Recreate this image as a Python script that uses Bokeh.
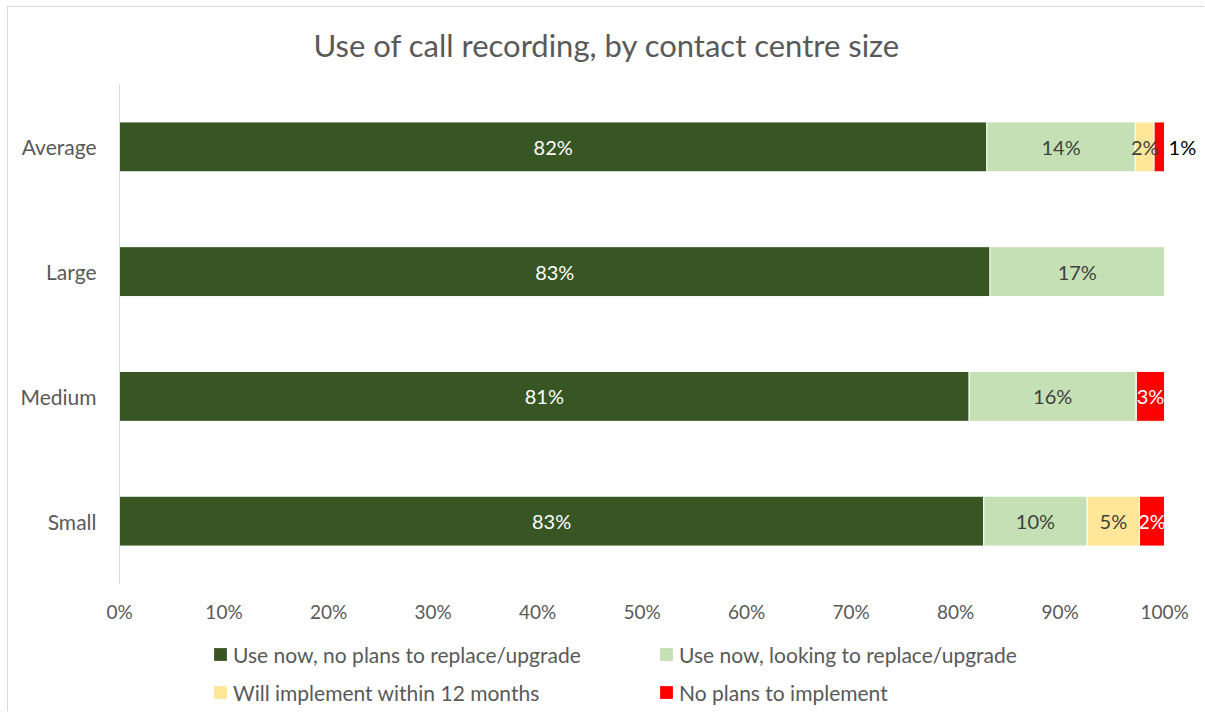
import numpy as np
from bokeh.plotting import figure
from bokeh.layouts import column
from bokeh.models import (ColumnDataSource, FactorRange, Range1d, FixedTicker,
                          PrintfTickFormatter, Legend, LegendItem)
from bokeh.core.properties import value
from bokeh.embed import file_html
from bokeh.resources import INLINE

# ---------------- data ----------------
categories = ["Small", "Medium", "Large", "Average"]
series = ["Use now, no plans to replace/upgrade",
          "Use now, looking to replace/upgrade",
          "Will implement within 12 months",
          "No plans to implement"]
use_no_plans = [82.7, 81.3, 83.3, 83.0]
use_looking = [9.9, 16.0, 16.7, 14.2]
will_implement = [5.0, 0.0, 0.0, 1.8]
no_plans = [2.4, 2.7, 0.0, 1.0]
use_no_plans_labels = ["83%", "81%", "83%", "82%"]
use_looking_labels = ["10%", "16%", "17%", "14%"]
will_implement_labels = ["5%", "", "", "2%"]
no_plans_labels = ["2%", "3%", "", "1%"]
x_ticks = [0, 10, 20, 30, 40, 50, 60, 70, 80, 90, 100]

# ---------------- style ----------------
colors = ["#375623", "#C5E0B4", "#FFE699", "#FF0000"]
label_colors = ["#FFFFFF", "#404040", "#404040", "#FFFFFF"]
outside_color = "#000000"
grey = "#595959"
FONT = "Lato"
W = 1196

p = figure(width=W, height=624,
           y_range=FactorRange(factors=categories, range_padding=0),
           x_range=Range1d(0, 103.44),
           output_backend="svg", toolbar_location=None,
           min_border_left=111, min_border_right=4,
           min_border_top=77, min_border_bottom=48)

p.title.text = "Use of call recording, by contact centre size"
p.title.align = "left"
p.title.offset = 194
p.title.standoff = 37
p.title.vertical_align = "top"
p.title.text_font = FONT
p.title.text_font_size = "31px"
p.title.text_font_style = "normal"
p.title.text_color = grey

stack_cols = ["s0", "s1", "s2", "s3"]
source = ColumnDataSource(dict(cat=categories, s0=use_no_plans, s1=use_looking,
                               s2=will_implement, s3=no_plans))
renderers = p.hbar_stack(stack_cols, y="cat", height=0.4, color=colors,
                         line_color="white", line_width=1, source=source)

# data labels
stack = [use_no_plans, use_looking, will_implement, no_plans]
stack_labels = [use_no_plans_labels, use_looking_labels, will_implement_labels, no_plans_labels]
starts = np.zeros(len(categories))
for i, (vals, labs) in enumerate(zip(stack, stack_labels)):
    vals = np.array(vals, dtype=float)
    ins = dict(x=[], y=[], t=[])
    outs = dict(x=[], y=[], t=[])
    for j, cat in enumerate(categories):
        if not labs[j]:
            continue
        if vals[j] < 1.5 and i == len(stack) - 1:
            outs["x"].append(starts[j] + vals[j]); outs["y"].append(cat); outs["t"].append(labs[j])
        else:
            ins["x"].append(starts[j] + vals[j] / 2); ins["y"].append(cat); ins["t"].append(labs[j])
    p.text(x="x", y="y", text="t", source=ColumnDataSource(ins),
           text_align="center", text_baseline="middle",
           text_font=value(FONT), text_font_size="20px", text_color=label_colors[i])
    if outs["x"]:
        p.text(x="x", y="y", text="t", source=ColumnDataSource(outs), x_offset=4,
               text_align="left", text_baseline="middle",
               text_font=value(FONT), text_font_size="20px", text_color=outside_color)
    starts = starts + vals

# axes
p.xaxis.ticker = FixedTicker(ticks=x_ticks)
p.xaxis.formatter = PrintfTickFormatter(format="%d%%")
p.xaxis.axis_line_color = None
p.xaxis.major_tick_line_color = None
p.xaxis.minor_tick_line_color = None
p.xaxis.major_label_standoff = 10
p.xaxis.major_label_text_font = FONT
p.xaxis.major_label_text_font_size = "19px"
p.xaxis.major_label_text_color = grey

p.yaxis.axis_line_color = "#d9d9d9"
p.yaxis.axis_line_width = 1
p.yaxis.major_tick_line_color = None
p.yaxis.minor_tick_line_color = None
p.yaxis.major_label_standoff = 17
p.yaxis.major_label_text_font = FONT
p.yaxis.major_label_text_font_size = "21px"
p.yaxis.major_label_text_color = grey

p.xgrid.grid_line_color = None
p.ygrid.grid_line_color = None
p.outline_line_color = None

# legend figure (swatch renderers are zero-size placeholders)
p2 = figure(width=W, height=80, x_range=Range1d(0, 1), y_range=Range1d(0, 1),
            x_axis_type=None, y_axis_type=None,
            output_backend="svg", toolbar_location=None,
            min_border_left=0, min_border_right=0, min_border_top=0, min_border_bottom=0)
p2.outline_line_color = None
p2.xgrid.grid_line_color = None
p2.ygrid.grid_line_color = None
swatch_src = ColumnDataSource(dict(y=[0], l=[0], r=[0]))
swatches = [p2.hbar(y="y", left="l", right="r", height=0, fill_color=c, line_color=None,
                    source=swatch_src) for c in colors]
legend = Legend(items=[LegendItem(label=s, renderers=[r]) for s, r in zip(series, swatches)],
                location=(93, 6), orientation="horizontal", ncols=2,
                glyph_width=16, glyph_height=16, label_standoff=5,
                label_text_font=FONT, label_text_font_size="21px", label_text_color=grey,
                spacing=12, padding=0, margin=0, label_width=413, label_height=26,
                border_line_color=None, background_fill_alpha=0)
p2.add_layout(legend, "center")

layout = column(p, p2, spacing=0)
layout.styles = {"margin-left": "7px", "margin-top": "6px",
                 "border-left": "1px solid #d9d9d9", "border-top": "1px solid #d9d9d9"}

open("out.html", "w").write(file_html(layout, INLINE))
